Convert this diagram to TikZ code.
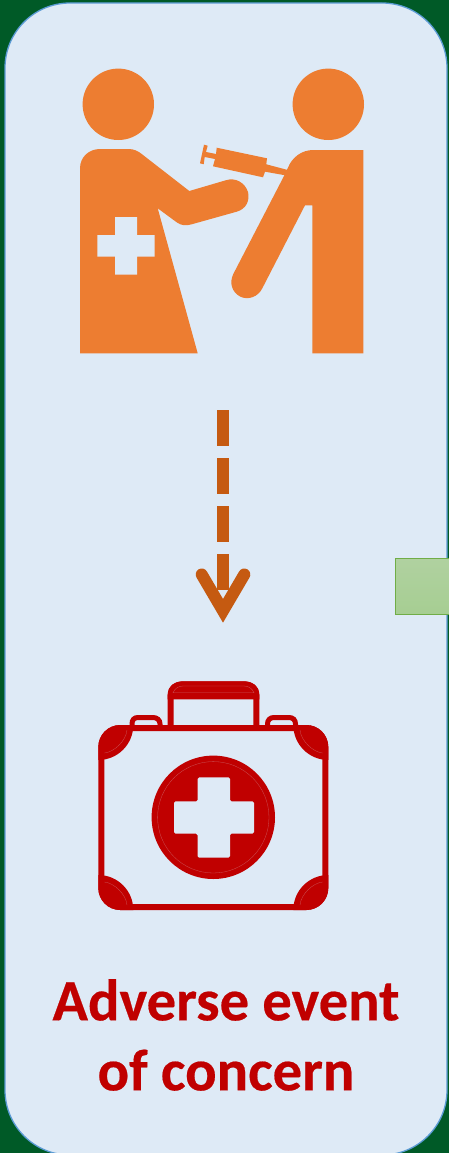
\documentclass[tikz,border=0pt]{standalone}
\usepackage{fontspec}
\setmainfont{Carlito}[BoldFeatures={FakeBold=0.35}]
\definecolor{bggreen}{HTML}{005A27}
\definecolor{panelfill}{HTML}{DEEAF6}
\definecolor{panelline}{HTML}{5B9BD5}
\definecolor{iconorange}{HTML}{ED7D31}
\definecolor{arrowbrown}{HTML}{C55A11}
\definecolor{kitred}{HTML}{C00000}
\definecolor{boxtop}{HTML}{B0D1A0}
\definecolor{boxbot}{HTML}{A6CE92}
\definecolor{boxline}{HTML}{70AD47}
\tikzset{
  px/.style={x=1pt,y=-1pt},
  orangefill/.style={fill=iconorange,draw=none},
  kitline/.style={draw=kitred,line width=6pt,fill=none},
  kitfill/.style={fill=kitred,draw=none},
  hairline/.style={draw=panelfill!35!kitred,line width=0.3pt},
  flow/.style={draw=arrowbrown,line width=12pt}
}
\begin{document}
\begin{tikzpicture}[px]
\useasboundingbox (0,0) rectangle (449,1153);
\fill[bggreen] (0,0) rectangle (449,1153);
\begin{scope}
\clip (0,0) rectangle (449,1153);
\draw[fill=panelfill,draw=panelline,line width=1.3pt,rounded corners=65pt] (5,3) rectangle (447,1155);
\shade[top color=boxtop,bottom color=boxbot,draw=boxline,line width=1pt] (395,558) rectangle (452,614.5);
\end{scope}
% nurse
\fill[orangefill] (118.3,104.3) circle (35.7);
\fill[orangefill] (80,353.3) -- (80,168.3) .. controls (80,157) and (89,149) .. (100,149) -- (128.3,149)
  .. controls (134,149) and (138,151) .. (141.7,154) -- (189.3,191) -- (225.7,180.3)
  .. controls (236,177) and (245,183) .. (248,192) .. controls (250,201) and (246,209) .. (236.7,211.7)
  -- (191.7,224.3) .. controls (186,226) and (181,225.5) .. (176.7,222.3) -- (157.7,208.3) -- (197.7,353.3) -- cycle;
\fill[panelfill] (97.3,235) -| (115,217) -| (137,235) -| (154.7,256.7) -| (137,274.7) -| (115,256.7) -| cycle;
% patient
\fill[orangefill] (328.3,104.3) circle (35.7);
\fill[orangefill] (363.3,150) -- (363.3,353.3) -- (312.3,353.3) -- (312.3,205.3) -- (305,205.3) -- (262.3,288.3)
  .. controls (258,297) and (248,300.5) .. (240,296.5) .. controls (232,292) and (229,283) .. (233.3,274)
  -- (284,176) -- (287.7,168.3) .. controls (292,157) and (302,150) .. (313.3,150) -- cycle;
% syringe
\fill[orangefill] (216.7,147.7) -- (267,158.3) -- (266.3,164.3) -- (287.7,170) -- (285.3,175.3) -- (265,171.7) -- (263,177.3) -- (213,166.3) -- (215,159) -- (204.7,157) -- (203.7,164.3) -- (200,163.3) -- (204,144.7) -- (207.7,145.7) -- (206,152) -- (216,154) -- cycle;
% flow arrow
\coordinate (flowstart) at (223,410);
\coordinate (flowend) at (223,590);
\coordinate (headL) at (201.7,574.5);
\coordinate (headR) at (244.3,574.5);
\coordinate (headtip) at (223,610.8);
\draw[flow,dash pattern=on 36pt off 12pt] (flowstart) -- (flowend);
\draw[flow,line cap=round,line join=miter,miter limit=10] (headL) -- (headtip) -- (headR);
% kit handle
\draw[kitline] (170.7,725) -- (170.7,695) .. controls (170.7,688) and (176,684.3) .. (183,684.3) -- (244,684.3) .. controls (251,684.3) and (256.3,688) .. (256.3,695) -- (256.3,725);
\fill[kitred] (167.7,699.3) -- (167.7,695) .. controls (167.7,686) and (175,681.3) .. (183,681.3) -- (244,681.3) .. controls (252,681.3) and (259.3,686) .. (259.3,695) -- (259.3,699.3) -- cycle;
\draw[hairline] (173,692.7) .. controls (175,688) and (179,686) .. (183,686) -- (244,686) .. controls (248,686) and (252,688) .. (254,692.7) -- cycle;
% latches
\draw[draw=kitred,line width=5pt] (132,726) -- (132,724) .. controls (132,720) and (134,717.5) .. (138,717.5) -- (153,717.5) .. controls (157,717.5) and (160,720) .. (160,724) -- (160,726);
\draw[draw=kitred,line width=5pt] (267.5,726) -- (267.5,724) .. controls (267.5,720) and (270,717.5) .. (274,717.5) -- (289,717.5) .. controls (293,717.5) and (295.5,720) .. (295.5,724) -- (295.5,726);
% kit body
\draw[kitline,rounded corners=19pt] (101.3,728) rectangle (325.3,907);
\begin{scope}
\clip[rounded corners=22pt] (98.3,725) rectangle (328.3,910);
\fill[kitfill] (98.3,725) circle (35);
\fill[kitfill] (328.3,725) circle (35);
\fill[kitfill] (98.3,910) circle (35);
\fill[kitfill] (328.3,910) circle (35);
\draw[hairline] (104.5,753) .. controls (114,752) and (126,741) .. (127,730);
\draw[hairline] (322.5,753) .. controls (313,752) and (301,741) .. (300,730);
\draw[hairline] (104.5,882) .. controls (114,883) and (126,894) .. (127,905);
\draw[hairline] (322.5,882) .. controls (313,883) and (301,894) .. (300,905);
\end{scope}
% kit emblem
\fill[kitfill] (213.3,817.3) circle (61.7);
\draw[hairline] (213.3,817.3) circle (55.7);
\fill[panelfill,rounded corners=1.5pt] (174,801.3) -- (197.7,801.3) -- (197.7,777.3) -- (230,777.3) -- (230,801.3) -- (254,801.3) -- (254,833.7) -- (230,833.7) -- (230,857.7) -- (197.7,857.7) -- (197.7,833.7) -- (174,833.7) -- cycle;
% caption
\node[text=kitred,font=\bfseries\fontsize{58.6}{70}\selectfont,align=center,inner sep=0pt] (caption) at (226,1035) {Adverse event\\of concern};
\end{tikzpicture}
\end{document}
